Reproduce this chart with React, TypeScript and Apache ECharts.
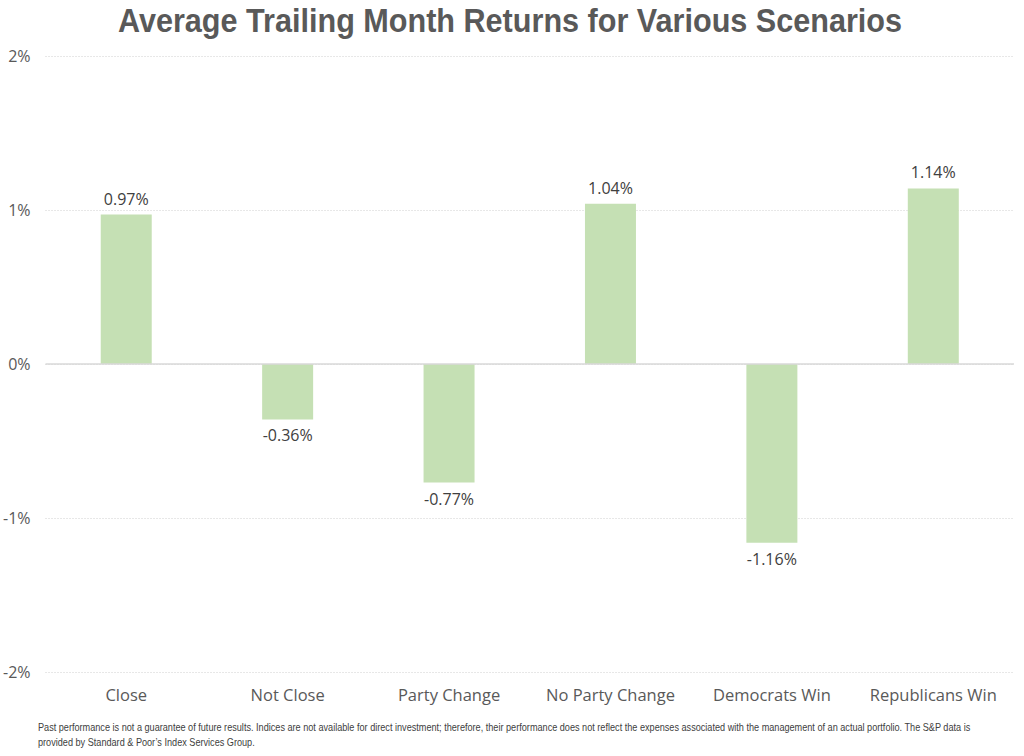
import React, { useEffect, useRef } from "react";
import * as echarts from "echarts";

const categories = ["Close", "Not Close", "Party Change", "No Party Change", "Democrats Win", "Republicans Win"];
const values = [0.97, -0.36, -0.77, 1.04, -1.16, 1.14];
const titleText = "Average Trailing Month Returns for Various Scenarios";
const footnoteLines = [
  "Past performance is not a guarantee of future results. Indices are not available for direct investment; therefore, their performance does not reflect the expenses associated with the management of an actual portfolio. The S&P data is",
  "provided by Standard & Poor\u2019s Index Services Group.",
];

export default function App() {
  const ref = useRef<HTMLDivElement>(null);
  useEffect(() => {
    document.body.style.margin = "0";
    const chart = echarts.init(ref.current!, null, { renderer: "svg" });
    chart.setOption({
      animation: false,
      backgroundColor: "#ffffff",
      graphic: [
        {
          type: "text",
          x: 510,
          y: 3,
          scaleX: 0.9,
          style: {
            text: titleText,
            textAlign: "center",
            textVerticalAlign: "top",
            fontFamily: "'Liberation Sans', Arial, sans-serif",
            fontSize: 34,
            fontWeight: "bold",
            fill: "#595959",
          },
        },
        ...footnoteLines.map((t, i) => ({
          type: "text",
          x: 38,
          y: 722 + i * 15,
          scaleX: 0.87,
          style: {
            text: t,
            textAlign: "left",
            textVerticalAlign: "top",
            fontFamily: "'Liberation Sans', Arial, sans-serif",
            fontSize: 10.5,
            fill: "#404040",
          },
        })),
      ],
      grid: { left: 42, right: 10, top: 56, bottom: 84, containLabel: false },
      xAxis: {
        type: "category",
        data: categories,
        position: "bottom",
        axisLine: { show: false },
        axisTick: { show: false },
        axisLabel: {
          fontFamily: "'Open Sans', 'Noto Sans', sans-serif",
          fontSize: 16.5,
          color: "#595959",
          margin: 14,
          interval: 0,
        },
      },
      yAxis: {
        type: "value",
        min: -2,
        max: 2,
        interval: 1,
        axisLine: { show: false },
        axisTick: { show: false },
        axisLabel: {
          formatter: (v: number) => `${v}%`,
          fontFamily: "'Open Sans', 'Noto Sans', sans-serif",
          fontSize: 16,
          color: "#595959",
          margin: 15,
        },
        splitLine: {
          lineStyle: { color: "#d0d0d0", type: [1, 2], width: 1 },
        },
      },
      series: [
        {
          type: "bar",
          data: values,
          barWidth: 51,
          itemStyle: { color: "#c5e0b4" },
          label: {
            show: true,
            position: "outside",
            formatter: (p: any) => `${p.value.toFixed(2)}%`,
            fontFamily: "'Open Sans', 'Noto Sans', sans-serif",
            fontSize: 16,
            color: "#404040",
            distance: 8,
          },
          markLine: {
            silent: true,
            symbol: "none",
            label: { show: false },
            lineStyle: { color: "#d9d9d9", type: "solid", width: 1.5 },
            data: [{ yAxis: 0 }],
          },
        },
      ],
    });
    return () => chart.dispose();
  }, []);
  return <div ref={ref} style={{ width: 1024, height: 756 }} />;
}
